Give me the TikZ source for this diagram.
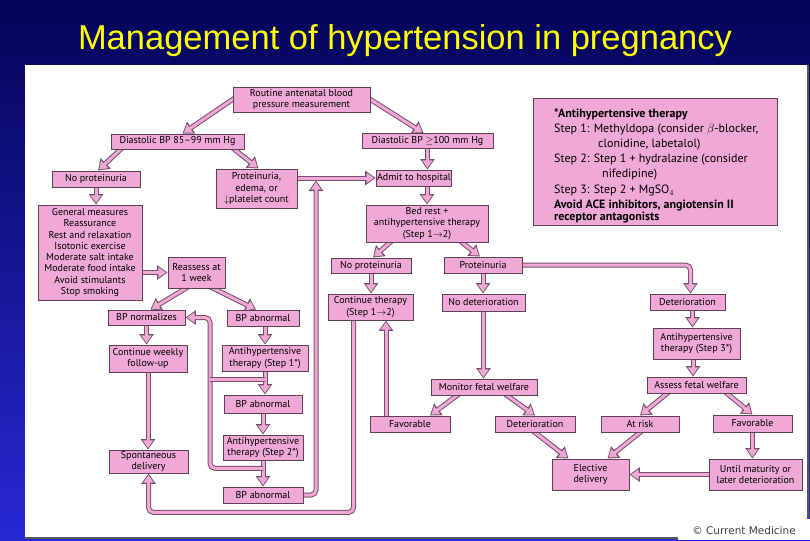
\documentclass[tikz,border=0pt]{standalone}
\usepackage{fontspec}
\setmainfont{PT Sans}
\newfontfamily\titlefont{Liberation Sans}
\newfontfamily\notefont{DejaVu Sans}
\usetikzlibrary{arrows.meta,calc,positioning,backgrounds}
\definecolor{htPink}{RGB}{240,168,214}
\definecolor{htLine}{RGB}{92,66,86}
\definecolor{htArrow}{RGB}{118,80,106}
\definecolor{htTitle}{RGB}{255,255,0}
\definecolor{htNavy}{RGB}{4,4,88}
\definecolor{htBlue}{RGB}{40,40,212}

\begin{document}
\begin{tikzpicture}[x=1pt,y=-1pt,
    box/.style={draw=htLine,fill=htPink,line width=0.9pt,inner sep=1pt,align=center,
      font=\fontsize{10}{11.3}\selectfont},
    flow/.style={draw=htPink,line width=3pt,rounded corners=5pt,shorten <=-3pt,
      -{Triangle[length=7.5pt,width=10pt]},shorten >=1.6pt,
      preaction={draw=htArrow,line width=5pt,-{Triangle[length=10.5pt,width=14pt]},shorten >=0pt}},
    band/.style={draw=htPink,line width=3pt,preaction={draw=htArrow,line width=5pt}}]
    \useasboundingbox (0,0) rectangle (810,540);
    \node[font=\titlefont\fontsize{34.5}{37}\selectfont,text=htTitle,anchor=base] (title) at (405,50) {Management of hypertension in pregnancy};
    \node[anchor=base,font=\notefont\fontsize{10.5}{12}\selectfont,text=black!75] (credit) at (744,534) {© Current Medicine};

    \node[box,minimum width=137pt,minimum height=25pt] (routine) at (301.5,99.5) {Routine antenatal blood\\pressure measurement};
    \node[box,minimum width=133pt,minimum height=15pt] (dlow) at (177.5,141.5) {Diastolic BP 85–99 mm Hg};
    \node[box,minimum width=131pt,minimum height=15pt] (dhigh) at (427.5,141) {Diastolic BP $\geq$100 mm Hg};
    \node[box,minimum width=88pt,minimum height=16pt] (noprotA) at (96,179) {No proteinuria};
    \node[box,minimum width=81pt,minimum height=39pt] (protedema) at (256.5,188.5) {Proteinuria,\\edema, or\\$\downarrow$platelet count};
    \node[box,minimum width=72pt,minimum height=16pt] (admit) at (414,178) {Admit to hospital};
    \node[box,minimum width=104pt,minimum height=95pt] (general) at (90,252.5) {General measures\\Reassurance\\Rest and relaxation\\Isotonic exercise\\Moderate salt intake\\Moderate food intake\\Avoid stimulants\\Stop smoking};
    \node[box,minimum width=57pt,minimum height=31pt] (reassess) at (196.5,272.5) {Reassess at\\1 week};
    \node[box,minimum width=77pt,minimum height=15pt] (bpnorm) at (146.5,317.5) {BP normalizes};
    \node[box,minimum width=72pt,minimum height=16pt] (bpabnA) at (263,318) {BP abnormal};
    \node[box,minimum width=78pt,minimum height=27pt] (contweekly) at (148,358.5) {Continue weekly\\follow-up};
    \node[box,minimum width=86pt,minimum height=26pt] (ah1) at (265,358) {Antihypertensive\\therapy (Step 1*)};
    \node[box,minimum width=78pt,minimum height=18pt] (bpabnB) at (263,404) {BP abnormal};
    \node[box,minimum width=80pt,minimum height=25pt] (ah2) at (263,447.5) {Antihypertensive\\therapy (Step 2*)};
    \node[box,minimum width=80pt,minimum height=16pt] (bpabnC) at (263,495) {BP abnormal};
    \node[box,minimum width=79pt,minimum height=23pt] (spont) at (148.5,461.5) {Spontaneous\\delivery};
    \node[box,minimum width=122pt,minimum height=37pt] (bedrest) at (427,223.5) {Bed rest +\\antihypertensive therapy\\(Step 1$\rightarrow$2)};
    \node[box,minimum width=80pt,minimum height=15pt] (noprotB) at (371,265.5) {No proteinuria};
    \node[box,minimum width=78pt,minimum height=16pt] (protB) at (483,265) {Proteinuria};
    \node[box,minimum width=85pt,minimum height=26pt] (contther) at (370.5,307) {Continue therapy\\(Step 1$\rightarrow$2)};
    \node[box,minimum width=83pt,minimum height=17pt] (nodet) at (483.5,302.5) {No deterioration};
    \node[box,minimum width=75pt,minimum height=16pt] (detR) at (687.5,302) {Deterioration};
    \node[box,minimum width=87pt,minimum height=31pt] (ah3) at (696.5,343.5) {Antihypertensive\\therapy (Step 3*)};
    \node[box,minimum width=99pt,minimum height=16pt] (assess) at (696.5,385) {Assess fetal welfare};
    \node[box,minimum width=106pt,minimum height=16pt] (monitor) at (484,387) {Monitor fetal welfare};
    \node[box,minimum width=80pt,minimum height=16pt] (favB) at (410,424) {Favorable};
    \node[box,minimum width=80pt,minimum height=16pt] (detB) at (535,424) {Deterioration};
    \node[box,minimum width=78pt,minimum height=16pt] (atrisk) at (640,424) {At risk};
    \node[box,minimum width=79pt,minimum height=17pt] (favR) at (752.5,423.5) {Favorable};
    \node[box,minimum width=77pt,minimum height=31pt] (elective) at (590.5,474.5) {Elective\\delivery};
    \node[box,minimum width=93pt,minimum height=31pt] (until) at (755.5,474.5) {Until maturity or\\later deterioration};

    \node[box,minimum width=244pt,minimum height=127pt] (legend) at (655,161.5) {};
    \node[anchor=north west,align=left,inner sep=0pt,font=\fontsize{12}{15}\selectfont] (legtext) at (554,108.5) {%
      \textbf{*Antihypertensive therapy}\\
      Step 1: Methyldopa (consider $\beta$-blocker,\\
      \hspace*{44pt}clonidine, labetalol)\\
      Step 2: Step 1 + hydralazine (consider\\
      \hspace*{48pt}nifedipine)\\[1pt]
      Step 3: Step 2 + MgSO$_4$\\
      \textbf{Avoid ACE inhibitors, angiotensin II}\\[-2.5pt]
      \textbf{receptor antagonists}};

    \begin{scope}[on background layer]
      \shade[top color=htNavy,bottom color=htBlue] (0,0) rectangle (810,540);
      \fill[white] (25,65) rectangle (808,538);
      \draw[black!65,line width=1.2pt] (25,538) -- (808,538) -- (808,65);
      \fill[white] (678,519) rectangle (810,540);

      \draw[flow] (routine.west) -- ([xshift=5pt]dlow.north);
      \draw[flow] (routine.east) -- ([xshift=-4pt]dhigh.north);
      \draw[flow] ([xshift=-57pt]dlow.south) -- ([xshift=2pt]noprotA.north);
      \draw[flow] ([xshift=57pt]dlow.south) -- ([xshift=2pt]protedema.north);
      \draw[flow] (noprotA.south) -- (noprotA.south |- general.north);
      \draw[flow] (protedema.east |- admit.west) -- (admit.west);
      \draw[flow] (dhigh.south) -- (dhigh.south |- admit.north);
      \draw[flow] (bedrest.north |- admit.south) -- (bedrest.north);
      \draw[flow] (general.east |- reassess.west) -- (reassess.west);
      \draw[flow] ([xshift=-11pt]reassess.south) -- ([xshift=4pt]bpnorm.north);
      \draw[flow] ([xshift=17pt]reassess.south) -- ([xshift=-7pt]bpabnA.north);
      \draw[flow] (bpnorm.south) -- (bpnorm.south |- contweekly.north);
      \draw[flow] (contweekly.south) -- (contweekly.south |- spont.north);
      \draw[flow] (ah1.north |- bpabnA.south) -- (ah1.north);
      \draw[flow] (ah1.south) -- (ah1.south |- bpabnB.north);
      \draw[flow] (bpabnB.south) -- (bpabnB.south |- ah2.north);
      \draw[flow] (ah2.south) -- (ah2.south |- bpabnC.north);
      \coordinate (lx) at (210,0);
      \coordinate (j1) at ($(ah1.south)!0.33!(ah1.south |- bpabnB.north)$);
      \coordinate (j2) at ($(ah2.south)!0.3!(ah2.south |- bpabnC.north)$);
      \coordinate (mergeA) at (316,180.5);
      \draw[flow,shorten <=0pt] (j2) -- (j2 -| lx) -- (lx |- bpnorm.east) -- (bpnorm.east);
      \draw[band] (j1) -- (j1 -| lx);
      \draw[flow] (bpabnC.east) -| (mergeA);
      \draw[flow] ([xshift=-17pt]contther.south) |- ([yshift=-39pt]spont.south) -- (spont.south);
      \draw[flow] ([xshift=-24pt]favB.north) -- ([xshift=-24pt]favB.north |- contther.south);
      \draw[flow] ([xshift=-37pt]bedrest.south) -- ([xshift=2pt]noprotB.north);
      \draw[flow] ([xshift=35pt]bedrest.south) -- ([xshift=-3pt]protB.north);
      \draw[flow] (noprotB.south) -- (noprotB.south |- contther.north);
      \draw[flow] (protB.south) -- (protB.south |- nodet.north);
      \draw[flow] (protB.east) -| ([xshift=3pt]detR.north);
      \draw[flow] ([xshift=5pt]detR.south) -- ([xshift=5pt]detR.south |- ah3.north);
      \draw[flow] ([xshift=-3.5pt]ah3.south) -- ([xshift=-3.5pt]ah3.south |- assess.north);
      \draw[flow] (nodet.south) -- (nodet.south |- monitor.north);
      \draw[flow] ([xshift=-27pt]monitor.south) -- ([xshift=20pt]favB.north);
      \draw[flow] ([xshift=23pt]monitor.south) -- (detB.north);
      \draw[flow] ([xshift=-29.5pt]assess.south) -- (atrisk.north);
      \draw[flow] ([xshift=30.5pt]assess.south) -- (favR.north);
      \draw[flow] (detB.south) -- ([xshift=-22pt]elective.north);
      \draw[flow] (atrisk.south) -- ([xshift=17pt]elective.north);
      \draw[flow] (favR.south) -- (favR.south |- until.north);
      \draw[flow] (until.west) -- (elective.east);
    \end{scope}
  \end{tikzpicture}
\end{document}
